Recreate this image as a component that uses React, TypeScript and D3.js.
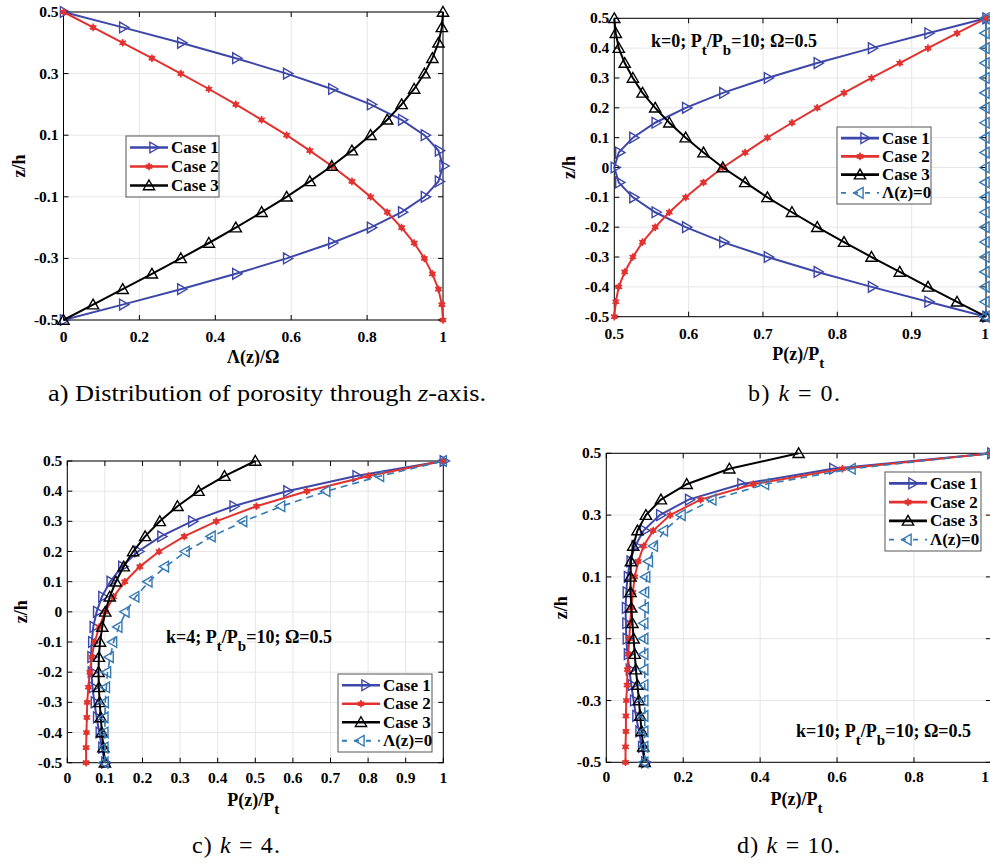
import React from "react";
import * as d3 from "d3";

// ---------- data ----------
const Z = [-0.5, -0.45, -0.4, -0.35, -0.3, -0.25, -0.2, -0.15, -0.1, -0.05, 0, 0.05, 0.1, 0.15, 0.2, 0.25, 0.3, 0.35, 0.4, 0.45, 0.5];

// a) porosity distribution Λ(z)/Ω
const A_CASE1 = [0, 0.156, 0.309, 0.454, 0.588, 0.707, 0.809, 0.891, 0.951, 0.988, 1, 0.988, 0.951, 0.891, 0.809, 0.707, 0.588, 0.454, 0.309, 0.156, 0];
const A_CASE2 = [1, 0.997, 0.988, 0.972, 0.951, 0.924, 0.891, 0.853, 0.809, 0.76, 0.707, 0.649, 0.588, 0.522, 0.454, 0.383, 0.309, 0.233, 0.156, 0.078, 0];
const A_CASE3 = [0, 0.078, 0.156, 0.233, 0.309, 0.383, 0.454, 0.522, 0.588, 0.649, 0.707, 0.76, 0.809, 0.853, 0.891, 0.924, 0.951, 0.972, 0.988, 0.997, 1];

// b) k = 0
const B_CASE1 = [1, 0.922, 0.846, 0.773, 0.706, 0.646, 0.596, 0.555, 0.525, 0.506, 0.5, 0.506, 0.525, 0.555, 0.596, 0.646, 0.706, 0.773, 0.846, 0.922, 1];
const B_CASE2 = [0.5, 0.502, 0.506, 0.514, 0.525, 0.538, 0.555, 0.574, 0.596, 0.62, 0.646, 0.676, 0.706, 0.739, 0.773, 0.809, 0.846, 0.884, 0.922, 0.961, 1];
const B_CASE3 = [1, 0.961, 0.922, 0.884, 0.846, 0.809, 0.773, 0.739, 0.706, 0.676, 0.646, 0.62, 0.596, 0.574, 0.555, 0.538, 0.525, 0.514, 0.506, 0.502, 0.5];
const B_REF = [1, 1, 1, 1, 1, 1, 1, 1, 1, 1, 1, 1, 1, 1, 1, 1, 1, 1, 1, 1, 1];

// c) k = 4
const C_CASE1 = [0.1, 0.092, 0.085, 0.078, 0.072, 0.067, 0.064, 0.063, 0.065, 0.069, 0.078, 0.092, 0.114, 0.145, 0.188, 0.249, 0.331, 0.441, 0.584, 0.768, 1];
const C_CASE2 = [0.05, 0.05, 0.051, 0.052, 0.053, 0.056, 0.06, 0.065, 0.073, 0.085, 0.101, 0.123, 0.153, 0.193, 0.244, 0.311, 0.396, 0.503, 0.637, 0.801, 1];
const C_CASE3 = [0.1, 0.096, 0.092, 0.089, 0.086, 0.084, 0.083, 0.084, 0.087, 0.093, 0.101, 0.113, 0.129, 0.15, 0.175, 0.207, 0.246, 0.293, 0.349, 0.418, 0.5];
const C_REF = [0.1, 0.1, 0.1, 0.1, 0.101, 0.104, 0.107, 0.114, 0.123, 0.137, 0.156, 0.182, 0.217, 0.261, 0.316, 0.385, 0.469, 0.57, 0.69, 0.833, 1];

// d) k = 10
const D_CASE1 = [0.1, 0.092, 0.085, 0.077, 0.071, 0.065, 0.06, 0.055, 0.052, 0.051, 0.05, 0.052, 0.055, 0.062, 0.075, 0.097, 0.139, 0.214, 0.35, 0.589, 1];
const D_CASE2 = [0.05, 0.05, 0.051, 0.051, 0.052, 0.054, 0.055, 0.057, 0.06, 0.062, 0.065, 0.069, 0.074, 0.083, 0.097, 0.122, 0.166, 0.245, 0.382, 0.614, 1];
const D_CASE3 = [0.1, 0.096, 0.092, 0.088, 0.085, 0.081, 0.077, 0.074, 0.071, 0.068, 0.065, 0.063, 0.063, 0.064, 0.07, 0.081, 0.103, 0.142, 0.209, 0.32, 0.5];
const D_REF = [0.1, 0.1, 0.1, 0.1, 0.1, 0.1, 0.1, 0.1, 0.1, 0.1, 0.101, 0.102, 0.105, 0.112, 0.125, 0.151, 0.197, 0.277, 0.414, 0.639, 1];

// tick values
const Y_TICKS_COARSE = [-0.5, -0.3, -0.1, 0.1, 0.3, 0.5];
const Y_TICKS_FINE = [-0.5, -0.4, -0.3, -0.2, -0.1, 0, 0.1, 0.2, 0.3, 0.4, 0.5];
const X_TICKS_A = [0, 0.2, 0.4, 0.6, 0.8, 1];
const X_TICKS_B = [0.5, 0.6, 0.7, 0.8, 0.9, 1];
const X_TICKS_C = [0, 0.1, 0.2, 0.3, 0.4, 0.5, 0.6, 0.7, 0.8, 0.9, 1];
const X_TICKS_D = [0, 0.2, 0.4, 0.6, 0.8, 1];

const SERIES_NAMES = ["Case 1", "Case 2", "Case 3", "Λ(z)=0"];

// ---------- styles ----------
const BLUE = "#3d47a9";
const RED = "#e2322f";
const BLACK = "#000000";
const REF = "#3479b4";
const GRID = "#e6e6e6";
const F = { fontFamily: "Liberation Serif" };

type Kind = "c1" | "c2" | "c3" | "ref";
const STYLE: Record<Kind, { color: string; dash?: string; width: number }> = {
  c1: { color: BLUE, width: 2 },
  c2: { color: RED, width: 2 },
  c3: { color: BLACK, width: 2 },
  ref: { color: REF, width: 1.6, dash: "7,5" },
};

function tri(dir: "up" | "right" | "left", s: number) {
  const pts: [number, number][] = [];
  const base = dir === "up" ? -90 : dir === "right" ? 0 : 180;
  for (let i = 0; i < 3; i++) {
    const a = ((base + i * 120) * Math.PI) / 180;
    pts.push([s * Math.cos(a), s * Math.sin(a)]);
  }
  return "M" + pts.map((p) => p[0].toFixed(2) + "," + p[1].toFixed(2)).join("L") + "Z";
}

function Marker({ kind, x, y }: { kind: Kind; x: number; y: number }) {
  const st = STYLE[kind];
  if (kind === "c2") {
    const ast = d3.symbol().type(d3.symbolAsterisk).size(40)() as string;
    return (
      <g transform={`translate(${x},${y})`}>
        <circle r={2.6} fill={RED} />
        <path d={ast} stroke={RED} strokeWidth={1.6} fill="none" />
      </g>
    );
  }
  const dir = kind === "c1" ? "right" : kind === "c3" ? "up" : "left";
  const s = kind === "c3" ? 6.5 : 6.2;
  return (
    <path
      d={tri(dir, s)}
      transform={`translate(${x},${y + (kind === "c3" ? 1 : 0)})`}
      fill="none"
      stroke={st.color}
      strokeWidth={1.4}
    />
  );
}

type SeriesDef = { kind: Kind; values: number[] };

type PanelProps = {
  left: number;
  right: number;
  top: number;
  bottom: number;
  xDomain: [number, number];
  xTicks: number[];
  yTicks: number[];
  xLabel: "lambda" | "p";
  series: SeriesDef[];
  legend: { x: number; y: number; w: number; h: number; rows: number };
  note?: { x: number; y: number; k: string };
  tickGap: number;
  yLabelX: number;
  clampRight?: number;
};

function fmt(v: number) {
  if (v === 0) return "0";
  if (v === 1) return "1";
  return d3.format(".1f")(v).replace("−", "-");
}

function Panel(p: PanelProps) {
  const x = d3.scaleLinear().domain(p.xDomain).range([p.left, p.right]);
  const y = d3.scaleLinear().domain([-0.5, 0.5]).range([p.bottom, p.top]);
  const line = d3
    .line<[number, number]>()
    .x((d) => x(d[0]))
    .y((d) => y(d[1]));
  const T = 5;
  const cx = (p.left + p.right) / 2;
  return (
    <g>
      {p.xTicks.map((t) => (
        <line key={"gx" + t} x1={x(t)} x2={x(t)} y1={p.top} y2={p.bottom} stroke={GRID} strokeWidth={1} />
      ))}
      {p.yTicks.map((t) => (
        <line key={"gy" + t} x1={p.left} x2={p.right} y1={y(t)} y2={y(t)} stroke={GRID} strokeWidth={1} />
      ))}
      <rect x={p.left} y={p.top} width={p.right - p.left} height={p.bottom - p.top} fill="none" stroke="#000" strokeWidth={1} />
      {p.xTicks.map((t) => {
        let tx = x(t);
        let anchor: "middle" | "end" = "middle";
        if (p.clampRight !== undefined && tx + 4 > p.clampRight) {
          tx = p.clampRight;
          anchor = "end";
        }
        return (
          <g key={"tx" + t}>
            <line x1={x(t)} x2={x(t)} y1={p.bottom} y2={p.bottom - T} stroke="#000" />
            <line x1={x(t)} x2={x(t)} y1={p.top} y2={p.top + T} stroke="#000" />
            <text x={tx} y={p.bottom + p.tickGap} textAnchor={anchor} style={F} fontWeight="bold" fontSize={15.5}>
              {fmt(t)}
            </text>
          </g>
        );
      })}
      {p.yTicks.map((t) => (
        <g key={"ty" + t}>
          <line x1={p.left} x2={p.left + T} y1={y(t)} y2={y(t)} stroke="#000" />
          <line x1={p.right} x2={p.right - T} y1={y(t)} y2={y(t)} stroke="#000" />
          <text x={p.left - 5} y={y(t) + 5} textAnchor="end" style={F} fontWeight="bold" fontSize={15.5}>
            {fmt(t)}
          </text>
        </g>
      ))}
      {p.series.map((s, i) => {
        const st = STYLE[s.kind];
        const pts: [number, number][] = s.values.map((v, j) => [v, Z[j]]);
        return (
          <g key={"s" + i}>
            <path d={line(pts) as string} fill="none" stroke={st.color} strokeWidth={st.width} strokeDasharray={st.dash} />
            {pts.map((d, j) => (
              <Marker key={j} kind={s.kind} x={x(d[0])} y={y(d[1])} />
            ))}
          </g>
        );
      })}
      {p.xLabel === "lambda" ? (
        <text x={cx} y={p.bottom + 43} textAnchor="middle" style={F} fontWeight="bold" fontSize={18}>
          Λ(z)/Ω
        </text>
      ) : (
        <text x={cx - 2} y={p.bottom + 43} textAnchor="middle" style={F} fontWeight="bold" fontSize={18}>
          P(z)/P
          <tspan dy={8} fontSize={15}>t</tspan>
        </text>
      )}
      <text
        transform={`translate(${p.yLabelX},${(p.top + p.bottom) / 2}) rotate(-90)`}
        textAnchor="middle"
        style={F}
        fontWeight="bold"
        fontSize={18}
      >
        z/h
      </text>
      {p.note && (
        <text x={p.note.x} y={p.note.y} style={F} fontWeight="bold" fontSize={18}>
          {p.note.k}; P<tspan dy={8} fontSize={15}>t</tspan>
          <tspan dy={-8}>/P</tspan>
          <tspan dy={8} fontSize={15}>b</tspan>
          <tspan dy={-8}>=10; Ω=0.5</tspan>
        </text>
      )}
      <rect x={p.legend.x} y={p.legend.y} width={p.legend.w} height={p.legend.h} fill="#fff" stroke="#555" strokeWidth={1} />
      {SERIES_NAMES.slice(0, p.legend.rows).map((name, i) => {
        const kinds: Kind[] = ["c1", "c2", "c3", "ref"];
        const k = kinds[i];
        const st = STYLE[k];
        const rowH = (p.legend.h - 4) / p.legend.rows;
        const ry = p.legend.y + 2 + rowH * (i + 0.5);
        const lx1 = p.legend.x + 4;
        const lx2 = p.legend.x + 42;
        return (
          <g key={"lg" + i}>
            <line x1={lx1} x2={lx2} y1={ry} y2={ry} stroke={st.color} strokeWidth={k === "ref" ? 1.8 : 2.6} strokeDasharray={k === "ref" ? "5,7" : undefined} />
            <Marker kind={k} x={(lx1 + lx2) / 2 + (k === "c1" ? 4 : 0)} y={ry} />
            <text x={lx2 + 3} y={ry + 5.5} style={F} fontWeight="bold" fontSize={17}>
              {name}
            </text>
          </g>
        );
      })}
    </g>
  );
}

export default function App() {
  const cap = { style: F, fontSize: 24 };
  return (
    <svg width={990} height={867} style={{ position: "absolute", left: 0, top: 0, background: "#fff" }}>
      <rect width={990} height={867} fill="#fff" />
      <Panel
        left={63.5}
        right={443}
        top={12}
        bottom={320}
        xDomain={[0, 1]}
        xTicks={X_TICKS_A}
        yTicks={Y_TICKS_COARSE}
        xLabel="lambda"
        tickGap={22}
        yLabelX={25}
        series={[
          { kind: "c1", values: A_CASE1 },
          { kind: "c2", values: A_CASE2 },
          { kind: "c3", values: A_CASE3 },
        ]}
        legend={{ x: 126, y: 136, w: 93, h: 61, rows: 3 }}
      />
      <Panel
        left={614.3}
        right={986}
        top={18.3}
        bottom={316.7}
        xDomain={[0.5, 1]}
        xTicks={X_TICKS_B}
        yTicks={Y_TICKS_FINE}
        xLabel="p"
        tickGap={22}
        yLabelX={575}
        clampRight={989}
        series={[
          { kind: "c1", values: B_CASE1 },
          { kind: "c2", values: B_CASE2 },
          { kind: "c3", values: B_CASE3 },
          { kind: "ref", values: B_REF },
        ]}
        legend={{ x: 837, y: 127, w: 94, h: 77, rows: 4 }}
        note={{ x: 651, y: 47, k: "k=0" }}
      />
      <Panel
        left={67.3}
        right={443.3}
        top={461}
        bottom={762.7}
        xDomain={[0, 1]}
        xTicks={X_TICKS_C}
        yTicks={Y_TICKS_FINE}
        xLabel="p"
        tickGap={20}
        yLabelX={27}
        series={[
          { kind: "c1", values: C_CASE1 },
          { kind: "c2", values: C_CASE2 },
          { kind: "c3", values: C_CASE3 },
          { kind: "ref", values: C_REF },
        ]}
        legend={{ x: 338, y: 674, w: 94, h: 78, rows: 4 }}
        note={{ x: 166, y: 643, k: "k=4" }}
      />
      <Panel
        left={606.3}
        right={990.9}
        top={453.3}
        bottom={762.3}
        xDomain={[0, 1]}
        xTicks={X_TICKS_D}
        yTicks={Y_TICKS_COARSE}
        xLabel="p"
        tickGap={20}
        yLabelX={567}
        clampRight={989}
        series={[
          { kind: "c1", values: D_CASE1 },
          { kind: "c2", values: D_CASE2 },
          { kind: "c3", values: D_CASE3 },
          { kind: "ref", values: D_REF },
        ]}
        legend={{ x: 885, y: 472, w: 96, h: 79, rows: 4 }}
        note={{ x: 796, y: 737, k: "k=10" }}
      />
      <text x={48} y={401} {...cap} textLength={438} lengthAdjust="spacingAndGlyphs">
        a) Distribution of porosity through <tspan fontStyle="italic">z</tspan>-axis.
      </text>
      <text x={748} y={401} {...cap} textLength={92} lengthAdjust="spacing">
        b) <tspan fontStyle="italic">k</tspan> = 0.
      </text>
      <text x={192} y={853} {...cap} textLength={88} lengthAdjust="spacing">
        c) <tspan fontStyle="italic">k</tspan> = 4.
      </text>
      <text x={737} y={853} {...cap} textLength={103} lengthAdjust="spacing">
        d) <tspan fontStyle="italic">k</tspan> = 10.
      </text>
    </svg>
  );
}
